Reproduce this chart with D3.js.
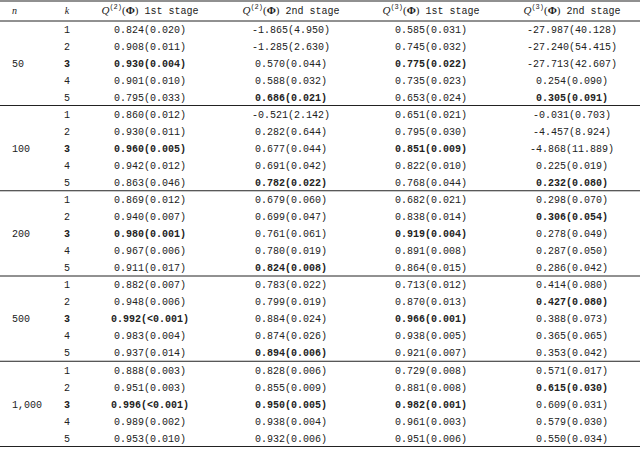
<!DOCTYPE html>
<html><head><meta charset="utf-8">
<script src="https://cdn.jsdelivr.net/npm/d3@7"></script>
<style>body{margin:0;background:#fff}</style>
</head><body><svg id="c"></svg>
<script>
var nValues = ["50", "100", "200", "500", "1,000"]
var kValues = ["1", "2", "3", "4", "5"]
var q2first = [
  ["0.824(0.020)","0.908(0.011)","0.930(0.004)","0.901(0.010)","0.795(0.033)"],
  ["0.860(0.012)","0.930(0.011)","0.960(0.005)","0.942(0.012)","0.863(0.046)"],
  ["0.869(0.012)","0.940(0.007)","0.980(0.001)","0.967(0.006)","0.911(0.017)"],
  ["0.882(0.007)","0.948(0.006)","0.992(<0.001)","0.983(0.004)","0.937(0.014)"],
  ["0.888(0.003)","0.951(0.003)","0.996(<0.001)","0.989(0.002)","0.953(0.010)"]]
var q2second = [
  ["-1.865(4.950)","-1.285(2.630)","0.570(0.044)","0.588(0.032)","0.686(0.021)"],
  ["-0.521(2.142)","0.282(0.644)","0.677(0.044)","0.691(0.042)","0.782(0.022)"],
  ["0.679(0.060)","0.699(0.047)","0.761(0.061)","0.780(0.019)","0.824(0.008)"],
  ["0.783(0.022)","0.799(0.019)","0.884(0.024)","0.874(0.026)","0.894(0.006)"],
  ["0.828(0.006)","0.855(0.009)","0.950(0.005)","0.938(0.004)","0.932(0.006)"]]
var q3first = [
  ["0.585(0.031)","0.745(0.032)","0.775(0.022)","0.735(0.023)","0.653(0.024)"],
  ["0.651(0.021)","0.795(0.030)","0.851(0.009)","0.822(0.010)","0.768(0.044)"],
  ["0.682(0.021)","0.838(0.014)","0.919(0.004)","0.891(0.008)","0.864(0.015)"],
  ["0.713(0.012)","0.870(0.013)","0.966(0.001)","0.938(0.005)","0.921(0.007)"],
  ["0.729(0.008)","0.881(0.008)","0.982(0.001)","0.961(0.003)","0.951(0.006)"]]
var q3second = [
  ["-27.987(40.128)","-27.240(54.415)","-27.713(42.607)","0.254(0.090)","0.305(0.091)"],
  ["-0.031(0.703)","-4.457(8.924)","-4.868(11.889)","0.225(0.019)","0.232(0.080)"],
  ["0.298(0.070)","0.306(0.054)","0.278(0.049)","0.287(0.050)","0.286(0.042)"],
  ["0.414(0.080)","0.427(0.080)","0.388(0.073)","0.365(0.065)","0.353(0.042)"],
  ["0.571(0.017)","0.615(0.030)","0.609(0.031)","0.579(0.030)","0.550(0.034)"]]
// index of the bold k per n group, one list per column
var boldQ2first = [2, 2, 2, 2, 2]
var boldQ2second = [4, 4, 4, 4, 2]
var boldQ3first = [2, 2, 2, 2, 2]
var boldQ3second = [4, 4, 1, 1, 1]
var headers = [["2", "1st stage"], ["2", "2nd stage"], ["3", "1st stage"], ["3", "2nd stage"]]

var width = 640, height = 468
var svg = d3.select("#c").attr("width", width).attr("height", height)
  .style("font-family", "'Liberation Mono', monospace").style("font-size", "10px").attr("fill", "#222")

var columns = [q2first, q2second, q3first, q3second]
var bolds = [boldQ2first, boldQ2second, boldQ3first, boldQ3second]
var xpos = { n: 12, k: 67, 0: 150, 1: 291, 2: 431, 3: 572 }

var rowH = 17.0, headerY = 10, firstY = 29
var groupY = d3.scaleLinear().domain([0, 4]).range([firstY, 370])
function rowY(g, r) { return groupY(g) + r * rowH }

// header
svg.append("text").attr("x", 12).attr("y", headerY + 4).style("font-family", "serif").style("font-style", "italic").text("n")
svg.append("text").attr("x", 67).attr("y", headerY + 4).attr("text-anchor", "middle").style("font-family", "serif").style("font-style", "italic").text("k")
headers.forEach(function(h, i) {
  var t = svg.append("text").attr("x", xpos[i]).attr("y", headerY + 4).attr("text-anchor", "middle")
  t.append("tspan").style("font-family", "serif").style("font-style", "italic").style("font-size", "11px").text("Q")
  t.append("tspan").attr("dy", -5).style("font-size", "7px").text("(" + h[0] + ")")
  t.append("tspan").attr("dy", 5).style("font-family", "serif").style("font-size", "11px").text("(")
  t.append("tspan").style("font-family", "serif").style("font-weight", "bold").style("font-size", "11px").text("Φ")
  t.append("tspan").style("font-family", "serif").style("font-size", "11px").text(")")
  t.append("tspan").attr("dx", 6).text(h[1])
})

function line(y, w) {
  svg.append("line").attr("x1", 0).attr("x2", width).attr("y1", y).attr("y2", y).attr("stroke", "#222").attr("stroke-width", w)
}
line(1, 1.2)
line(21, 1)

nValues.forEach(function(n, g) {
  svg.append("text").attr("x", 12).attr("y", rowY(g, 2) + 3.5).text(n)
  kValues.forEach(function(k, r) {
    svg.append("text").attr("x", xpos.k).attr("y", rowY(g, r) + 3.5).attr("text-anchor", "middle")
      .style("font-weight", r === 2 ? "bold" : null).text(k)
    columns.forEach(function(col, c) {
      svg.append("text").attr("x", xpos[c]).attr("y", rowY(g, r) + 3.5).attr("text-anchor", "middle")
        .style("font-weight", bolds[c][g] === r ? "bold" : null).text(col[g][r])
    })
  })
  line(rowY(g, 4) + 8.5, 1)
})
</script></body></html>
